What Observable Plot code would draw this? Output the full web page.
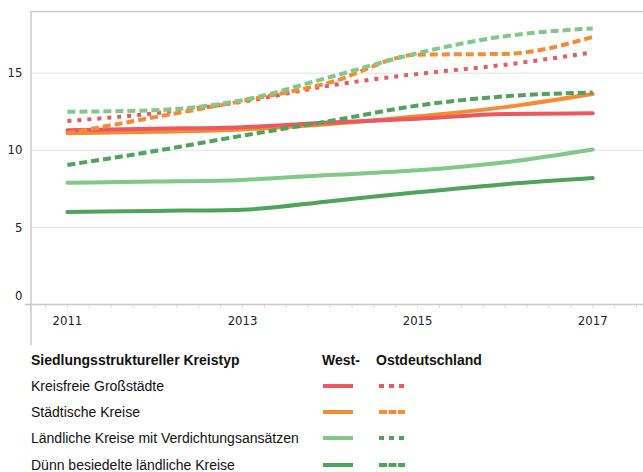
<!DOCTYPE html>
<html>
<head>
<meta charset="utf-8">
<script src="https://cdn.jsdelivr.net/npm/d3@7"></script>
<script src="https://cdn.jsdelivr.net/npm/@observablehq/plot@0.6"></script>
<style>
  html, body { margin: 0; padding: 0; background: #fff; }
  #wrap { position: relative; width: 643px; height: 472px; overflow: hidden; }
  #legend { position: absolute; left: 0; top: 0; width: 643px; height: 472px; pointer-events: none;
    font-family: "Liberation Sans", Arial, sans-serif; font-size: 14px; color: #111; }
  #legend .t { position: absolute; white-space: nowrap; line-height: 16px; }
  #legend .b { font-weight: bold; }
  #legend svg { position: absolute; overflow: visible; }
</style>
</head>
<body>
<div id="wrap"><div id="chart"></div><div id="legend"></div></div>
<script>
// ---- data ----
const years = [2011, 2012, 2013, 2014, 2015, 2016, 2017];
const westKreisfrei = [11.3, 11.4, 11.5, 11.8, 12.05, 12.35, 12.4];
const westStaedtisch = [11.1, 11.2, 11.35, 11.7, 12.2, 12.8, 13.65];
const westLaendlich = [7.9, 7.97, 8.08, 8.4, 8.7, 9.22, 10.05];
const westDuenn = [6.0, 6.07, 6.15, 6.7, 7.28, 7.8, 8.2];
const ostKreisfrei = [11.9, 12.4, 13.15, 14.2, 14.95, 15.55, 16.35];
const ostStaedtisch = [11.1, 12.15, 13.2, 14.4, 16.2, 16.25, 17.35];
const ostLaendlich = [12.5, 12.6, 13.25, 14.75, 16.3, 17.4, 17.9];
const ostDuenn = [9.05, 9.95, 10.95, 11.9, 12.9, 13.5, 13.75];
const categories = ["Kreisfreie Großstädte", "Städtische Kreise", "Ländliche Kreise mit Verdichtungsansätzen", "Dünn besiedelte ländliche Kreise"];
const yTicks = [0, 5, 10, 15];
const xTicks = [2011, 2013, 2015, 2017];
const legendTitle = "Siedlungsstruktureller Kreistyp";
const westLabel = "West-";
const ostLabel = "Ostdeutschland";

// ---- styles ----
const colors = ["#e85a60", "#f58b33", "#82c886", "#4fa35a"];
const dashOst = ["4,6", "8,4", "8,4", "8,4"];
const legendOstColors = ["#e85a60", "#f58b33", "#4fa35a", "#4fa35a"];
const legendOstDash = ["5,5", "8,1.5", "5,5", "8,1.5"];

const westSeries = [westKreisfrei, westStaedtisch, westLaendlich, westDuenn];
const ostSeries = [ostKreisfrei, ostStaedtisch, ostLaendlich, ostDuenn];
const toRows = (vals) => years.map((y, i) => ({year: y, value: vals[i]}));

const minor = d3.range(2010.75, 2017.6, 0.25);
const tickFont = '"DejaVu Sans Condensed", "Liberation Sans Narrow", "DejaVu Sans", sans-serif';

const lineMarks = [];
const westOrder = [1, 0, 2, 3];
for (const k of westOrder) {
  lineMarks.push(Plot.lineY(toRows(westSeries[k]), {x: "year", y: "value", stroke: colors[k], strokeWidth: 4, curve: "monotone-x"}));
}
for (const k of [0, 1, 2, 3]) {
  lineMarks.push(Plot.lineY(toRows(ostSeries[k]), {x: "year", y: "value", stroke: colors[k], strokeWidth: 4, strokeDasharray: dashOst[k], strokeLinecap: "butt", curve: "monotone-x"}));
}

const W = 643, H = 345, mL = 31, mT = 11, mB = 41;
const chart = Plot.plot({
  width: W, height: H,
  marginLeft: mL, marginRight: 0, marginTop: mT, marginBottom: mB,
  style: {fontFamily: tickFont, fontSize: "13px", color: "#333", background: "white"},
  x: {type: "linear", domain: [2010.59, 2017.58]},
  y: {domain: [0, 19]},
  marks: [
    Plot.gridY([5, 10, 15], {stroke: "#e4e4e4", strokeOpacity: 1}),
    Plot.ruleY([19], {stroke: "#c9c9c9", strokeWidth: 1.5}),
    Plot.axisX({ticks: minor, tickSize: 4, tickFormat: () => "", stroke: "#dadada", label: null}),
    Plot.axisX({ticks: xTicks, tickSize: 0, tickPadding: 11, tickFormat: d => String(d), label: null, fill: "#222"}),
    Plot.axisY({ticks: yTicks.filter(d => d > 0), tickSize: 0, tickPadding: 9, label: null, fill: "#222"}),
    Plot.axisY({ticks: yTicks.filter(d => d === 0), tickSize: 0, tickPadding: 9, dy: -9, label: null, fill: "#222"}),
    Plot.ruleY([0], {stroke: "#c9c9c9", strokeWidth: 1.5, insetLeft: -6}),
    ...lineMarks
  ]
});
document.getElementById("chart").appendChild(chart);
// left frame line extending below axis
d3.select(chart).append("line")
  .attr("x1", mL).attr("x2", mL).attr("y1", mT).attr("y2", H)
  .attr("stroke", "#c9c9c9").attr("stroke-width", 1.5);

// ---- legend (HTML) ----
const leg = document.getElementById("legend");
function addText(txt, x, yc, bold) {
  const d = document.createElement("div");
  d.className = "t" + (bold ? " b" : "");
  d.textContent = txt;
  d.style.left = x + "px";
  d.style.top = (yc - 8) + "px";
  leg.appendChild(d);
}
function addSwatch(x1, x2, yc, color, dash) {
  const ns = "http://www.w3.org/2000/svg";
  const s = document.createElementNS(ns, "svg");
  s.setAttribute("width", x2 - x1 + 4); s.setAttribute("height", 8);
  s.style.left = (x1 - 2) + "px"; s.style.top = (yc - 4) + "px";
  const l = document.createElementNS(ns, "line");
  l.setAttribute("x1", 2); l.setAttribute("x2", x2 - x1 + 2);
  l.setAttribute("y1", 4); l.setAttribute("y2", 4);
  l.setAttribute("stroke", color); l.setAttribute("stroke-width", 4);
  if (dash) l.setAttribute("stroke-dasharray", dash);
  s.appendChild(l);
  leg.appendChild(s);
}
addText(legendTitle, 31, 360, true);
addText(westLabel, 322, 360, true);
addText(ostLabel, 376, 360, true);
const rowY = [386, 412, 438, 465];
categories.forEach((c, i) => {
  addText(c, 31, rowY[i], false);
  addSwatch(323, 353, rowY[i], colors[i], null);
  addSwatch(379, 405, rowY[i], legendOstColors[i], legendOstDash[i]);
});
</script>
</body>
</html>
